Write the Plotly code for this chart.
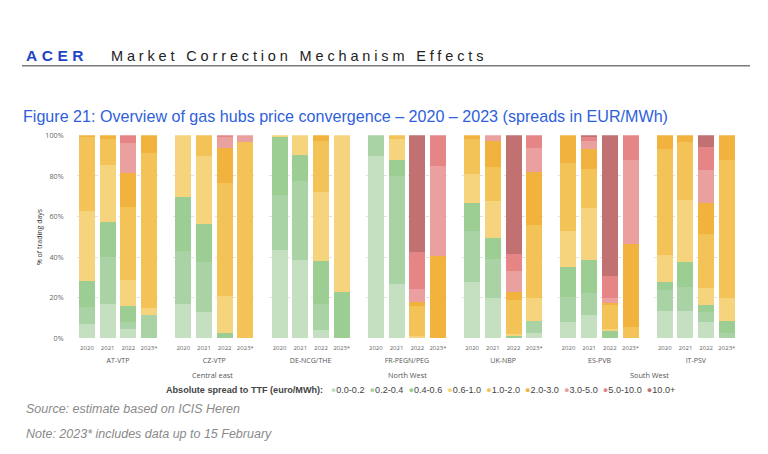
import plotly.graph_objects as go

W, H = 768, 454

hubs = ["AT-VTP", "CZ-VTP", "DE-NCG/THE", "FR-PEGN/PEG", "UK-NBP", "ES-PVB", "IT-PSV"]
years = ["2020", "2021", "2022", "2023*"]
bins = ["0.0-0.2", "0.2-0.4", "0.4-0.6", "0.6-1.0", "1.0-2.0", "2.0-3.0", "3.0-5.0", "5.0-10.0", "10.0+"]
colors = ["#c4e0c1", "#a9d3a5", "#9ccd93", "#f6d47e", "#f4c358", "#f1b33e", "#eba0a0", "#e68586", "#c27172"]
regions = ["Central east", "North West", "South West"]
y_ticks = [0, 20, 40, 60, 80, 100]

# share of trading days (%) per spread bin; order: hub by hub, years 2020..2023*
s_00_02 = [7.0, 17.0, 4.5, 0.0,   17.0, 12.8, 0.0, 0.0,   43.5, 38.7, 4.0, 0.0,   90.0, 27.0, 0.0, 0.0,   27.8, 19.7, 0.0, 2.6,   8.2, 11.4, 0.0, 0.0,   13.5, 13.5, 8.2, 0.0]
s_02_04 = [8.5, 23.0, 3.7, 11.7,  26.0, 24.9, 0.0, 0.0,   27.0, 38.8, 12.9, 0.0,  10.0, 53.0, 0.0, 0.0,   25.2, 19.3, 0.0, 6.1,   12.2, 10.9, 0.0, 0.0,  10.4, 12.0, 4.8, 2.7]
s_04_06 = [13.0, 17.5, 7.8, 0.0,  26.5, 18.5, 2.6, 0.0,   29.0, 12.9, 21.3, 23.0, 0.0, 8.0, 0.0, 0.0,     13.8, 10.4, 1.4, 0.0,   14.8, 16.1, 3.9, 0.0,  3.7, 12.1, 3.7, 6.0]
s_06_10 = [34.3, 27.7, 13.0, 3.2, 30.5, 33.4, 18.3, 0.0,  0.5, 9.6, 33.7, 77.0,   0.0, 10.4, 1.0, 0.0,    14.4, 18.5, 0.6, 11.2,  17.6, 26.0, 0.6, 0.0,  13.5, 30.5, 8.3, 11.2]
s_10_20 = [36.2, 13.0, 35.7, 76.3, 0.0, 10.4, 55.8, 96.8, 0.0, 0.0, 25.4, 0.0,    0.0, 1.6, 15.0, 0.0,    17.2, 16.4, 16.8, 35.8, 33.7, 19.2, 12.2, 5.8, 52.2, 28.7, 26.2, 68.2]
s_20_30 = [1.0, 1.8, 16.7, 8.8,   0.0, 0.0, 16.9, 0.0,    0.0, 0.0, 2.7, 0.0,     0.0, 0.0, 2.1, 40.6,    1.6, 13.0, 4.3, 26.5,   13.5, 9.7, 0.6, 40.9,  6.7, 3.2, 15.3, 11.9]
s_30_50 = [0.0, 0.0, 14.9, 0.0,   0.0, 0.0, 5.6, 3.2,     0.0, 0.0, 0.0, 0.0,     0.0, 0.0, 6.5, 44.5,    0.0, 2.7, 10.1, 11.5,   0.0, 4.0, 2.6, 41.4,   0.0, 0.0, 16.5, 0.0]
s_50_100 = [0.0, 0.0, 3.7, 0.0,   0.0, 0.0, 0.8, 0.0,     0.0, 0.0, 0.0, 0.0,     0.0, 0.0, 18.1, 14.9,   0.0, 0.0, 8.4, 6.3,     0.0, 1.7, 10.8, 11.9,  0.0, 0.0, 11.5, 0.0]
s_100p = [0.0, 0.0, 0.0, 0.0,     0.0, 0.0, 0.0, 0.0,     0.0, 0.0, 0.0, 0.0,     0.0, 0.0, 57.3, 0.0,    0.0, 0.0, 58.4, 0.0,    0.0, 1.0, 69.3, 0.0,   0.0, 0.0, 5.5, 0.0]
series = [s_00_02, s_02_04, s_04_06, s_06_10, s_10_20, s_20_30, s_30_50, s_50_100, s_100p]

FONT = "Open Sans"
fig = go.Figure()

# geometry (pixels)
left_px, group_px, gap_px = 76.6, 82.8, 13.5
y0_px, y1_px = 341.0, 133.3

for g, hub in enumerate(hubs):
    ax = "x" if g == 0 else f"x{g+1}"
    for b, (name, col, vals) in enumerate(zip(bins, colors, series)):
        fig.add_trace(go.Bar(
            x=years, y=vals[g*4:(g+1)*4], name=name, marker=dict(color=col, line=dict(width=0)),
            xaxis=ax, yaxis="y", showlegend=False,
            hovertemplate=hub + " %{x}<br>" + name + ": %{y:.1f}%<extra></extra>"))
    x0 = (left_px + g*(group_px + gap_px)) / W
    x1 = x0 + group_px / W
    key = "xaxis" if g == 0 else f"xaxis{g+1}"
    fig.layout[key] = dict(
        domain=[x0, x1], anchor="y", type="category", categoryorder="array", categoryarray=years,
        showgrid=False, zeroline=False, showline=False, ticks="", ticklabelstandoff=5,
        tickfont=dict(family=FONT, size=6, color="#666666"),
        title=dict(text=hub, font=dict(family=FONT, size=7, color="#555555"), standoff=6),
        fixedrange=True)

fig.update_layout(
    width=W, height=H, margin=dict(l=0, r=0, t=0, b=0),
    paper_bgcolor="white", plot_bgcolor="white",
    barmode="stack", bargap=0.23, showlegend=False,
    yaxis=dict(domain=[1 - y0_px/H, 1 - y1_px/H], range=[0, 100], tickmode="array", tickvals=y_ticks,
               ticktext=[f"{v}%" for v in y_ticks], showgrid=True, gridcolor="#e2e2e2", griddash="dot",
               gridwidth=1, zeroline=False, showline=False, anchor="x", ticklabelstandoff=12,
               tickfont=dict(family=FONT, size=7.2, color="#666666"),
               title=dict(text="% of trading days", font=dict(family=FONT, size=7, color="#333333"), standoff=1),
               fixedrange=True),
)

def px(x, y):
    return x / W, 1 - y / H

ann = []
def add_text(x, y, text, font, xanchor="left"):
    ax_, ay_ = px(x, y)
    ann.append(dict(x=ax_, y=ay_, xref="paper", yref="paper", xanchor=xanchor, yanchor="middle",
                    showarrow=False, text=text, font=font))

add_text(24, 52, '<span style="letter-spacing:4.5px">ACER</span>',
         dict(family="Liberation Sans", size=15.5, color="#1f45c8", weight="bold"))
add_text(109, 52, '<span style="letter-spacing:3.85px">Market Correction Mechanism Effects</span>',
         dict(family="Liberation Sans", size=14.5, color="#222222"))
add_text(21, 113, "Figure 21: Overview of gas hubs price convergence – 2020 – 2023 (spreads in EUR/MWh)",
         dict(family="Liberation Sans", size=16.1, color="#2f5fdc"))
for reg, cx in zip(regions, [212.5, 407.5, 649.0]):
    add_text(cx, 378, reg, dict(family=FONT, size=7.3, color="#555555"), xanchor="center")
leg = "<b>Absolute spread to TTF (euro/MWh):</b> "
for name, col in zip(bins, colors):
    leg += f'  <span style="color:{col}">●</span>{name}'
add_text(164, 394, leg, dict(family="Liberation Sans", size=9.1, color="#444444"))
add_text(24, 413, "<i>Source: estimate based on ICIS Heren</i>",
         dict(family="Liberation Sans", size=12.5, color="#8a8a8a"))
add_text(24, 439, "<i>Note: 2023* includes data up to 15 February</i>",
         dict(family="Liberation Sans", size=12.5, color="#8a8a8a"))
fig.update_layout(annotations=ann)

lx0, ly = px(22, 62)
lx1, _ = px(750, 62)
fig.add_shape(type="line", xref="paper", yref="paper", x0=lx0, x1=lx1, y0=ly, y1=ly,
              line=dict(color="#7a7a7a", width=1.5))

post = ("document.documentElement.style.margin='0';document.body.style.margin='0';"
        "document.documentElement.style.overflow='hidden';document.body.style.overflow='hidden';"
        "var d=document.getElementById('{plot_id}');var p=d.parentNode;"
        "p.style.position='absolute';p.style.left='0px';p.style.top='0px';")
fig.write_html("out.html", config={"displayModeBar": False}, post_script=post)
